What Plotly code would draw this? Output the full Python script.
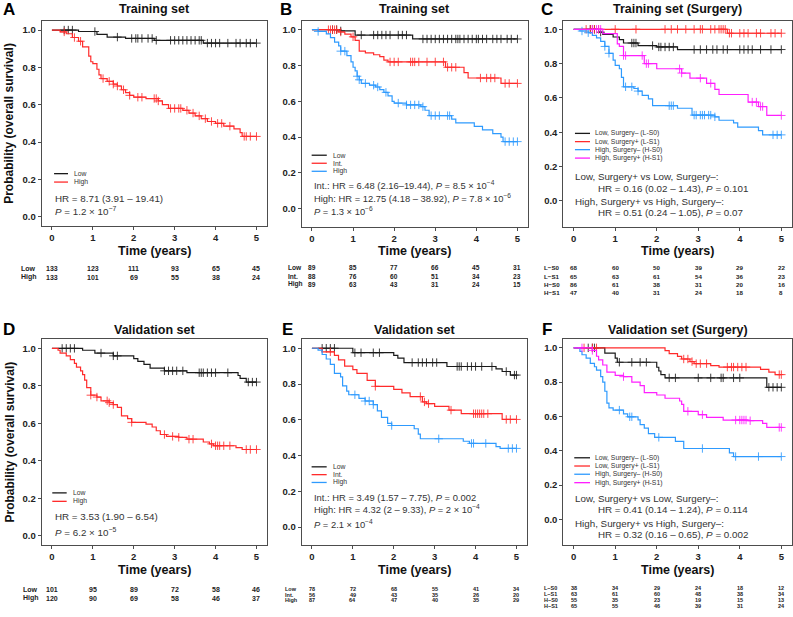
import numpy as np
import plotly.graph_objects as go

W, H = 793, 617
BLACK = "#1a1a1a"
RED = "#FF2B2B"
BLUE = "#2E9AFE"
MAGENTA = "#FF1FFF"
FONT = "Liberation Sans"

# ---------------- data (event times, survival after event, censor times) ----------------
A_low_t = [0.65, 1.1, 1.35, 1.8, 2.5, 3.7]
A_low_s = [0.992, 0.977, 0.962, 0.955, 0.945, 0.930]
A_low_c = [0.3, 0.4, 0.5, 1.05, 1.6, 1.95, 2.05, 2.1, 2.2, 2.35, 2.45, 2.55, 2.9, 3.0, 3.1, 3.2, 3.3,
           3.4, 3.5, 3.6, 3.65, 3.8, 3.9, 4.0, 4.1, 4.3, 4.5, 4.6, 4.75, 4.85, 5.0]
A_high_t = [0.2, 0.35, 0.5, 0.65, 0.75, 0.9, 0.95, 1.0, 1.1, 1.15, 1.2, 1.35, 1.5, 1.6, 1.7, 1.8, 1.9,
            2.0, 2.3, 2.6, 2.7, 2.85, 3.2, 3.35, 3.5, 3.65, 3.8, 4.0, 4.2, 4.45, 4.6, 4.65]
A_high_s = [0.99, 0.98, 0.96, 0.94, 0.91, 0.86, 0.83, 0.82, 0.79, 0.76, 0.74, 0.725, 0.71, 0.70, 0.68,
            0.665, 0.65, 0.64, 0.633, 0.62, 0.60, 0.58, 0.57, 0.555, 0.54, 0.525, 0.51, 0.50, 0.485,
            0.47, 0.45, 0.43]
A_high_c = [0.3, 0.55, 0.7, 1.25, 1.4, 1.5, 1.6, 1.75, 1.9, 2.1, 2.2, 2.5, 2.55, 2.6, 2.9, 3.0, 3.1,
            3.15, 3.3, 3.45, 3.6, 3.75, 3.9, 4.05, 4.15, 4.35, 4.7, 4.75, 4.85, 5.0]

B_low_t = [0.7, 1.05, 2.45]
B_low_s = [0.993, 0.97, 0.948]
B_low_c = [0.5, 0.6, 0.7, 1.2, 1.5, 1.6, 1.7, 1.8, 1.9, 2.1, 2.2, 2.3, 2.7, 2.8, 2.9, 3.0, 3.1, 3.2,
           3.3, 3.4, 3.5, 3.55, 3.6, 3.7, 3.8, 3.9, 4.0, 4.05, 4.15, 4.25, 4.4, 4.5, 4.6, 4.75, 4.85, 5.0]
B_int_t = [0.65, 0.8, 0.95, 1.05, 1.15, 1.3, 1.5, 1.65, 1.75, 1.85, 3.25, 3.7, 3.8, 4.6]
B_int_s = [0.987, 0.975, 0.96, 0.94, 0.88, 0.87, 0.86, 0.85, 0.83, 0.82, 0.79, 0.76, 0.73, 0.70]
B_int_c = [0.4, 0.45, 0.5, 0.55, 0.6, 0.7, 1.0, 1.9, 2.0, 2.1, 2.4, 2.45, 2.5, 2.6, 2.8, 3.0, 3.2,
           3.3, 3.4, 3.5, 4.1, 4.25, 4.35, 4.45, 4.7, 4.8, 5.0]
B_high_t = [0.15, 0.35, 0.45, 0.55, 0.65, 0.7, 0.85, 0.95, 1.0, 1.05, 1.1, 1.15, 1.2, 1.4, 1.55, 1.65,
            1.75, 1.85, 1.95, 2.0, 2.3, 2.65, 2.75, 2.85, 3.4, 3.5, 3.95, 4.15, 4.4, 4.6, 4.65]
B_high_s = [0.99, 0.977, 0.955, 0.93, 0.91, 0.88, 0.855, 0.82, 0.79, 0.77, 0.74, 0.72, 0.70, 0.69,
            0.68, 0.665, 0.65, 0.63, 0.60, 0.59, 0.58, 0.57, 0.55, 0.52, 0.50, 0.48, 0.46, 0.44, 0.42,
            0.40, 0.375]
B_high_c = [0.15, 0.7, 0.8, 1.1, 1.15, 1.3, 1.5, 1.6, 1.8, 2.1, 2.3, 2.4, 2.5, 2.6, 2.7, 2.9, 3.0,
            3.1, 3.3, 3.35, 4.7, 4.8, 4.9, 5.0]

C_ls0_t = [0.6, 0.7, 0.95, 1.1, 1.2, 1.55, 2.0, 2.5]
C_ls0_s = [0.983, 0.97, 0.955, 0.94, 0.92, 0.905, 0.897, 0.882]
C_ls0_c = [0.4, 0.5, 0.65, 1.4, 1.45, 1.5, 1.9, 2.05, 2.1, 2.2, 2.3, 2.4, 2.9, 3.05, 3.2, 3.35,
           3.45, 3.6, 3.7, 4.0, 4.1, 4.2, 4.3, 4.5, 4.75, 5.0]
C_ls1_t = [3.7]
C_ls1_s = [0.977]
C_ls1_c = [0.3, 0.4, 0.45, 0.5, 0.6, 1.0, 1.5, 2.2, 2.35, 2.5, 2.7, 2.9, 3.05, 3.1, 3.3, 3.4, 3.5,
           3.55, 3.6, 3.65, 3.75, 3.8, 4.0, 4.1, 4.2, 4.4, 4.5, 4.75, 4.85, 5.0]
C_hs0_t = [0.15, 0.35, 0.45, 0.55, 0.65, 0.75, 0.85, 0.95, 1.0, 1.1, 1.15, 1.2, 1.45, 1.55, 1.65,
           1.8, 1.9, 2.5, 2.85, 3.4, 3.5, 3.85, 3.95, 4.45, 4.55]
C_hs0_s = [0.99, 0.98, 0.965, 0.95, 0.93, 0.90, 0.86, 0.82, 0.79, 0.77, 0.72, 0.665, 0.655, 0.64,
           0.615, 0.595, 0.555, 0.54, 0.50, 0.49, 0.47, 0.455, 0.43, 0.41, 0.385]
C_hs0_c = [0.2, 0.35, 0.75, 0.85, 1.25, 1.4, 1.55, 2.3, 2.35, 2.4, 2.9, 2.95, 3.05, 3.1, 3.15, 3.25,
           3.3, 3.4, 4.8, 4.9, 5.0]
C_hs1_t = [0.7, 1.05, 1.1, 1.2, 1.7, 2.0, 2.6, 2.8, 3.2, 3.4, 3.5, 4.2, 4.45, 4.65]
C_hs1_s = [0.975, 0.915, 0.9, 0.847, 0.80, 0.77, 0.745, 0.715, 0.685, 0.65, 0.62, 0.576, 0.55, 0.498]
C_hs1_c = [0.45, 0.55, 0.6, 0.65, 1.2, 1.25, 1.65, 1.75, 1.8, 2.55, 2.6, 3.05, 3.3, 4.3, 4.4, 4.5,
           4.55, 5.0]

D_low_t = [0.75, 1.05, 1.5, 2.0, 2.1, 2.25, 2.4, 2.75, 3.3, 4.55, 4.6, 4.75]
D_low_s = [0.99, 0.975, 0.96, 0.945, 0.93, 0.915, 0.895, 0.88, 0.87, 0.855, 0.84, 0.82]
D_low_c = [0.25, 0.35, 0.45, 0.55, 1.2, 1.5, 1.6, 2.75, 2.85, 2.95, 3.05, 3.2, 3.6, 3.65, 3.7, 3.8,
           3.9, 4.0, 4.3, 4.8, 4.9, 5.0]
D_high_t = [0.15, 0.2, 0.35, 0.45, 0.55, 0.6, 0.7, 0.75, 0.8, 0.85, 0.95, 1.1, 1.2, 1.4, 1.5, 1.6,
            1.7, 1.85, 1.95, 2.3, 2.45, 2.55, 2.65, 2.8, 3.1, 3.3, 3.7, 3.85, 3.95, 4.5, 4.65]
D_high_s = [0.99, 0.975, 0.96, 0.94, 0.92, 0.90, 0.88, 0.86, 0.83, 0.79, 0.75, 0.74, 0.72, 0.71,
            0.70, 0.685, 0.64, 0.625, 0.605, 0.595, 0.58, 0.56, 0.54, 0.53, 0.525, 0.515, 0.50,
            0.49, 0.48, 0.47, 0.46]
D_high_c = [0.95, 1.1, 1.35, 1.4, 1.5, 1.95, 2.75, 2.95, 3.1, 3.35, 3.45, 3.9, 4.0, 4.05, 4.1, 4.2,
            4.35, 4.75, 4.85, 5.0]

E_low_t = [1.0, 2.0, 2.1, 2.25, 3.3, 4.5, 4.65, 4.85]
E_low_s = [0.975, 0.96, 0.945, 0.92, 0.898, 0.885, 0.87, 0.85]
E_low_c = [0.25, 0.35, 0.45, 0.55, 1.05, 1.2, 1.5, 1.65, 2.45, 2.6, 2.7, 2.8, 2.95, 3.05, 3.55, 3.6,
           3.65, 3.8, 3.9, 4.0, 4.15, 4.4, 4.75, 4.95, 5.0]
E_int_t = [0.25, 0.55, 0.65, 0.8, 1.0, 1.1, 1.35, 1.55, 2.0, 2.2, 2.4, 2.7, 2.8, 3.0, 3.35, 3.65, 4.65]
E_int_s = [0.98, 0.96, 0.935, 0.90, 0.88, 0.86, 0.82, 0.787, 0.77, 0.75, 0.73, 0.70, 0.69, 0.675,
           0.654, 0.634, 0.602]
E_int_c = [0.45, 1.55, 2.65, 2.75, 2.85, 3.4, 3.95, 4.0, 4.05, 4.1, 4.15, 4.2, 4.3, 4.75, 4.85, 5.0]
E_high_t = [0.15, 0.25, 0.35, 0.45, 0.55, 0.7, 0.75, 0.85, 0.9, 1.15, 1.3, 1.5, 1.6, 1.7, 1.85,
            1.95, 2.5, 2.6, 2.65, 3.7, 3.85, 4.5, 4.6]
E_high_s = [0.99, 0.965, 0.94, 0.91, 0.86, 0.84, 0.79, 0.76, 0.74, 0.72, 0.705, 0.685, 0.65, 0.613,
            0.58, 0.568, 0.55, 0.52, 0.494, 0.48, 0.468, 0.45, 0.44]
E_high_c = [1.05, 1.3, 1.4, 1.5, 1.95, 3.1, 3.9, 3.95, 4.25, 4.8, 4.9, 5.0]

F_ls0_t = [0.75, 1.0, 1.05, 2.0, 2.05, 2.1, 2.2, 4.65]
F_ls0_s = [0.969, 0.94, 0.916, 0.887, 0.865, 0.844, 0.825, 0.77]
F_ls0_c = [0.35, 0.45, 0.5, 1.1, 1.4, 1.6, 1.75, 2.3, 2.45, 3.0, 3.3, 3.55, 3.6, 3.85, 4.0, 4.7,
           4.8, 4.9, 5.0]
F_ls1_t = [2.2, 2.3, 2.5, 2.6, 2.8, 2.9, 3.3, 3.5, 4.5, 4.7, 4.85]
F_ls1_s = [0.984, 0.966, 0.95, 0.935, 0.92, 0.908, 0.897, 0.888, 0.875, 0.858, 0.844]
F_ls1_c = [0.25, 0.45, 0.55, 2.65, 2.75, 2.85, 2.95, 3.05, 3.2, 3.7, 3.8, 3.85, 3.95, 4.05, 4.15,
           4.95, 5.0]
F_hs0_t = [0.15, 0.2, 0.3, 0.4, 0.5, 0.55, 0.65, 0.7, 0.75, 0.8, 0.85, 0.95, 1.2, 1.3, 1.55, 1.6,
           1.7, 1.8, 1.95, 2.45, 2.65, 3.75, 3.85]
F_hs0_s = [0.98, 0.96, 0.94, 0.91, 0.89, 0.87, 0.832, 0.80, 0.747, 0.678, 0.65, 0.637, 0.615, 0.598,
           0.58, 0.552, 0.532, 0.50, 0.478, 0.454, 0.413, 0.388, 0.366]
F_hs0_c = [1.1, 1.35, 1.4, 2.05, 3.1, 3.9, 4.45, 5.0]
F_hs1_t = [0.45, 0.55, 0.6, 0.7, 0.8, 1.0, 1.2, 1.4, 1.6, 1.7, 2.0, 2.2, 2.55, 2.6, 2.65, 3.0, 3.2,
           3.6, 4.2, 4.55, 4.65]
F_hs1_s = [0.985, 0.951, 0.93, 0.90, 0.858, 0.84, 0.832, 0.80, 0.78, 0.739, 0.725, 0.706, 0.69,
           0.67, 0.63, 0.61, 0.595, 0.579, 0.575, 0.56, 0.536]
F_hs1_c = [0.2, 0.45, 1.2, 2.75, 3.1, 3.9, 4.0, 4.05, 4.1, 4.15, 4.25, 4.95, 5.0]

# numbers at risk
risk_times = [0, 1, 2, 3, 4, 5]
A_risk = {"Low": [133, 123, 111, 93, 65, 45], "High": [133, 101, 69, 55, 38, 24]}
B_risk = {"Low": [89, 85, 77, 66, 45, 31], "Int.": [88, 76, 60, 51, 34, 23],
          "High": [89, 63, 43, 31, 24, 15]}
C_risk = {"L\u2212S0": [68, 60, 50, 39, 29, 22], "L\u2212S1": [65, 63, 61, 54, 36, 23],
          "H\u2212S0": [86, 61, 38, 31, 20, 16], "H\u2212S1": [47, 40, 31, 24, 18, 8]}
D_risk = {"Low": [101, 95, 89, 72, 58, 46], "High": [120, 90, 69, 58, 46, 37]}
E_risk = {"Low": [78, 72, 68, 55, 41, 34], "Int.": [56, 49, 43, 35, 26, 20],
          "High": [87, 64, 47, 40, 35, 29]}
F_risk = {"L\u2212S0": [38, 34, 29, 24, 18, 12], "L\u2212S1": [63, 61, 60, 48, 38, 34],
          "H\u2212S0": [55, 35, 23, 19, 15, 13], "H\u2212S1": [65, 55, 46, 39, 31, 24]}

x_ticks = [0, 1, 2, 3, 4, 5]
y_ticks = [0.0, 0.2, 0.4, 0.6, 0.8, 1.0]

LEG2 = ["Low", "High"]
LEG3 = ["Low", "Int.", "High"]
LEG4 = ["Low, Surgery\u2013 (L-S0)", "Low, Surgery+ (L-S1)", "High, Surgery\u2013 (H-S0)",
        "High, Surgery+ (H-S1)"]

# ---------------- panel layout (pixel boxes) ----------------
panels = [
    dict(letter="A", title="Training set", bx=(41.7, 266.7), by=(20.7, 226.0), yr=[-0.05, 1.05],
         series=[(A_low_t, A_low_s, A_low_c, BLACK), (A_high_t, A_high_s, A_high_c, RED)],
         legend=LEG2, leg_y=[0.255, 0.214], leg_x=(0.055, 0.117, 0.133),
         texts=[("HR = 8.71 (3.91 \u2013 19.41)", 0.05, 0.135),
                ("<i>P</i> = 1.2 \u00d7 10<sup>\u22127</sup>", 0.05, 0.072)], tsize=9.8,
         risk=A_risk, risk_y=[268, 277], risk_lx=19, rsize=7, letter_x=9, ytitle=True),
    dict(letter="B", title="Training set", bx=(301.7, 527.7), by=(20.7, 226.7), yr=[-0.1, 1.05],
         series=[(B_low_t, B_low_s, B_low_c, BLACK), (B_int_t, B_int_s, B_int_c, RED),
                 (B_high_t, B_high_s, B_high_c, BLUE)],
         legend=LEG3, leg_y=[0.347, 0.308, 0.269], leg_x=(0.044, 0.111, 0.1296),
         texts=[("Int.: HR = 6.48 (2.16\u201319.44), <i>P</i> = 8.5 \u00d7 10<sup>\u22124</sup>", 0.045, 0.2025),
                ("High: HR = 12.75 (4.18 \u2013 38.92), <i>P</i> = 7.8 \u00d7 10<sup>\u22126</sup>", 0.045, 0.141),
                ("<i>P</i> = 1.3 \u00d7 10<sup>\u22126</sup>", 0.045, 0.074)], tsize=9.4,
         risk=B_risk, risk_y=[267.7, 276, 284.3], risk_lx=286, rsize=6.6, letter_x=286, ytitle=False),
    dict(letter="C", title="Training set (Surgery)", bx=(563.3, 791.7), by=(20.7, 226.7), yr=[-0.15, 1.05],
         series=[(C_ls0_t, C_ls0_s, C_ls0_c, BLACK), (C_ls1_t, C_ls1_s, C_ls1_c, RED),
                 (C_hs0_t, C_hs0_s, C_hs0_c, BLUE), (C_hs1_t, C_hs1_s, C_hs1_c, MAGENTA)],
         legend=LEG4, leg_y=[0.453, 0.413, 0.374, 0.333], leg_x=(0.051, 0.117, 0.131),
         texts=[("Low, Surgery+ vs Low, Surgery\u2013:", 0.044, 0.243),
                ("HR = 0.16 (0.02 \u2013 1.43), <i>P</i> = 0.101", 0.143, 0.184),
                ("High, Surgery+ vs High, Surgery\u2013:", 0.044, 0.121),
                ("HR = 0.51 (0.24 \u2013 1.05), <i>P</i> = 0.07", 0.143, 0.068)], tsize=9.8,
         risk=C_risk, risk_y=[267.7, 276, 284.3, 292.3], risk_lx=542.3, rsize=6.2, letter_x=547, ytitle=False),
    dict(letter="D", title="Validation set", bx=(41.7, 266.7), by=(339.0, 545.0), yr=[-0.05, 1.05],
         series=[(D_low_t, D_low_s, D_low_c, BLACK), (D_high_t, D_high_s, D_high_c, RED)],
         legend=LEG2, leg_y=[0.253, 0.212], leg_x=(0.047, 0.111, 0.129),
         texts=[("HR = 3.53 (1.90 \u2013 6.54)", 0.05, 0.136),
                ("<i>P</i> = 6.2 \u00d7 10<sup>\u22125</sup>", 0.05, 0.065)], tsize=9.8,
         risk=D_risk, risk_y=[589.3, 598.3], risk_lx=21, rsize=7, letter_x=9, ytitle=True),
    dict(letter="E", title="Validation set", bx=(301.7, 526.7), by=(339.3, 545.0), yr=[-0.1, 1.05],
         series=[(E_low_t, E_low_s, E_low_c, BLACK), (E_int_t, E_int_s, E_int_c, RED),
                 (E_high_t, E_high_s, E_high_c, BLUE)],
         legend=LEG3, leg_y=[0.380, 0.342, 0.304], leg_x=(0.044, 0.111, 0.129),
         texts=[("Int.: HR = 3.49 (1.57 \u2013 7.75), <i>P</i> = 0.002", 0.045, 0.23),
                ("High: HR = 4.32 (2 \u2013 9.33), <i>P</i> = 2 \u00d7 10<sup>\u22124</sup>", 0.045, 0.174),
                ("<i>P</i> = 2.1 \u00d7 10<sup>\u22124</sup>", 0.045, 0.103)], tsize=9.4,
         risk=E_risk, risk_y=[588.6, 594.5, 600.4], risk_lx=282.7, rsize=5.5, letter_x=287, ytitle=False),
    dict(letter="F", title="Validation set (Surgery)", bx=(563.3, 791.7), by=(339.3, 545.0), yr=[-0.15, 1.05],
         series=[(F_ls0_t, F_ls0_s, F_ls0_c, BLACK), (F_ls1_t, F_ls1_s, F_ls1_c, RED),
                 (F_hs0_t, F_hs0_s, F_hs0_c, BLUE), (F_hs1_t, F_hs1_s, F_hs1_c, MAGENTA)],
         legend=LEG4, leg_y=[0.424, 0.384, 0.344, 0.303], leg_x=(0.048, 0.117, 0.131),
         texts=[("Low, Surgery+ vs Low, Surgery\u2013:", 0.044, 0.227),
                ("HR = 0.41 (0.14 \u2013 1.24), <i>P</i> = 0.114", 0.143, 0.174),
                ("High, Surgery+ vs High, Surgery\u2013:", 0.044, 0.105),
                ("HR = 0.32 (0.16 \u2013 0.65), <i>P</i> = 0.002", 0.143, 0.052)], tsize=9.8,
         risk=F_risk, risk_y=[588.2, 594.1, 600.0, 605.9], risk_lx=541.7, rsize=5.5, letter_x=547, ytitle=False),
]


def step_xy(t, s, tmax=5.0):
    x = [0.0] + list(t) + [tmax]
    y = [1.0] + list(s) + [s[-1]]
    return x, y


def surv_at(t, s, c):
    t = np.asarray(t)
    s = np.asarray(s)
    idx = np.searchsorted(t, np.asarray(c), side="right") - 1
    return np.where(idx < 0, 1.0, s[np.clip(idx, 0, None)])


def px2x(p):
    return p / W


def py2y(p):
    return 1 - p / H


fig = go.Figure()
annotations = []
shapes = []
layout = {}

for i, P in enumerate(panels, start=1):
    sx = "" if i == 1 else str(i)
    xref, yref = "x" + sx, "y" + sx
    for (t, s, c, col) in P["series"]:
        x, y = step_xy(t, s)
        fig.add_trace(go.Scatter(x=x, y=y, mode="lines", line=dict(color=col, width=1.2, shape="hv"),
                                 xaxis=xref, yaxis=yref, showlegend=False, hoverinfo="skip"))
        fig.add_trace(go.Scatter(x=c, y=surv_at(t, s, c), mode="markers",
                                 marker=dict(symbol="cross-thin", size=6, color=col, opacity=0.85,
                                             line=dict(color=col, width=1)),
                                 xaxis=xref, yaxis=yref, showlegend=False, hoverinfo="skip"))
    axcommon = dict(showgrid=False, zeroline=False, showline=True, mirror=True, linecolor="#4d4d4d",
                    linewidth=1, ticks="outside", ticklen=3, tickwidth=1, tickcolor="#4d4d4d",
                    tickfont=dict(family=FONT, size=9.5, color="#222", weight="bold"))
    layout["xaxis" + sx] = dict(axcommon, domain=[px2x(P["bx"][0]), px2x(P["bx"][1])], anchor=yref,
                                range=[-0.25, 5.25], tickvals=x_ticks)
    layout["yaxis" + sx] = dict(axcommon, domain=[py2y(P["by"][1]), py2y(P["by"][0])], anchor=xref,
                                range=P["yr"], tickvals=y_ticks, tickformat=".1f")
    top = P["by"][0]
    row_top = 0 if top < 100 else 320
    cx = (P["bx"][0] + P["bx"][1]) / 2
    # title
    annotations.append(dict(text="<b>%s</b>" % P["title"], x=px2x(cx), y=py2y(row_top + 9.5),
                            xref="paper", yref="paper", showarrow=False, xanchor="center", yanchor="middle",
                            font=dict(family=FONT, size=12.5, color="#111")))
    # panel letter
    annotations.append(dict(text="<b>%s</b>" % P["letter"], x=px2x(P["letter_x"]), y=py2y(row_top + 10),
                            xref="paper", yref="paper", showarrow=False, xanchor="center", yanchor="middle",
                            font=dict(family=FONT, size=17, color="#000")))
    # x title
    annotations.append(dict(text="<b>Time (years)</b>", x=px2x(cx), y=py2y(P["by"][1] + 24.5),
                            xref="paper", yref="paper", showarrow=False, xanchor="center", yanchor="middle",
                            font=dict(family=FONT, size=12.5, color="#111")))
    if P["ytitle"]:
        annotations.append(dict(text="<b>Probability (overall survival)</b>", x=px2x(9.5),
                                y=py2y((P["by"][0] + P["by"][1]) / 2), xref="paper", yref="paper",
                                showarrow=False, textangle=-90, xanchor="center", yanchor="middle",
                                font=dict(family=FONT, size=12, color="#111")))
    # in-plot legend
    cols = [sr[3] for sr in P["series"]]
    x0, x1, xt = P["leg_x"]
    for lab, ly, col in zip(P["legend"], P["leg_y"], cols):
        shapes.append(dict(type="line", xref=xref + " domain", yref=yref + " domain", x0=x0, x1=x1,
                           y0=ly, y1=ly, line=dict(color=col, width=1.3)))
        annotations.append(dict(text=lab, x=xt, y=ly, xref=xref + " domain", yref=yref + " domain",
                                showarrow=False, xanchor="left", yanchor="middle",
                                font=dict(family=FONT, size=6.8, color="#333")))
    # stats text
    for txt, tx, ty in P["texts"]:
        annotations.append(dict(text=txt, x=tx, y=ty, xref=xref + " domain", yref=yref + " domain",
                                showarrow=False, xanchor="left", yanchor="middle",
                                font=dict(family=FONT, size=P["tsize"], color="#333")))
    # risk table
    for (lab, vals), ry in zip(P["risk"].items(), P["risk_y"]):
        annotations.append(dict(text="<b>%s</b>" % lab, x=px2x(P["risk_lx"]), y=py2y(ry), xref="paper",
                                yref="paper", showarrow=False, xanchor="left", yanchor="middle",
                                font=dict(family=FONT, size=P["rsize"], color="#222")))
        for tt, v in zip(risk_times, vals):
            annotations.append(dict(text="<b>%d</b>" % v, x=tt, y=py2y(ry), xref=xref, yref="paper",
                                    showarrow=False, xanchor="center", yanchor="middle",
                                    font=dict(family=FONT, size=P["rsize"], color="#222")))

fig.update_layout(width=W, height=H, margin=dict(l=0, r=0, t=0, b=0), plot_bgcolor="white",
                  paper_bgcolor="white", showlegend=False, annotations=annotations, shapes=shapes,
                  **layout)
fig.write_html("out.html", config={"displayModeBar": False, "staticPlot": True},
               post_script="document.body.style.margin='0px';document.body.style.overflow='hidden';")
